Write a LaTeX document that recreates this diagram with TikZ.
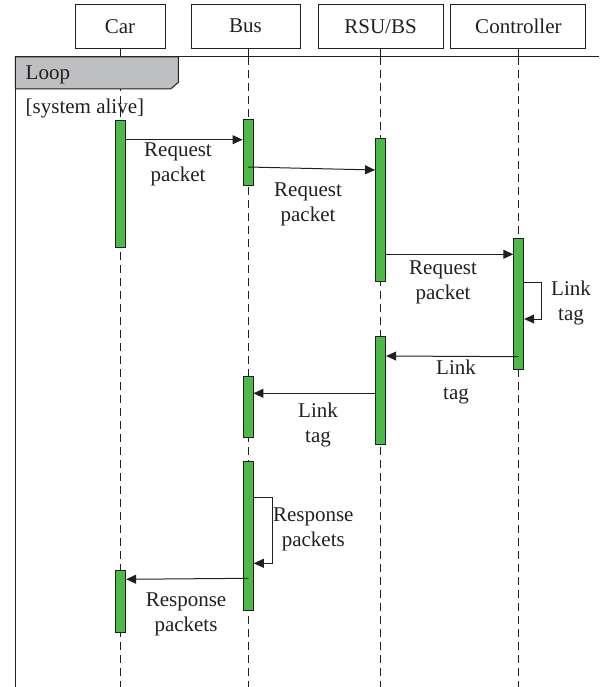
\documentclass[tikz,border=0pt]{standalone}
\usepackage{fontspec}
\setmainfont{Liberation Serif}
\usetikzlibrary{arrows.meta}
\definecolor{actgreen}{RGB}{76,185,72}
\definecolor{loopgray}{RGB}{190,191,193}
\definecolor{inkgray}{RGB}{35,31,32}

\begin{document}
\begin{tikzpicture}[x=1pt,y=-1pt,
  font=\fontsize{21}{25}\selectfont, color=inkgray,
  lifebox/.style={draw,line width=1pt,minimum height=44pt,inner sep=0pt},
  lifeline/.style={line width=0.9pt,dash pattern=on 8pt off 5pt},
  act/.style={draw,fill=actgreen,line width=0.9pt,minimum width=10pt,inner sep=0pt},
  msg/.style={line width=1pt,-{Triangle[length=10pt,width=9pt]}},
  lbl/.style={align=center,inner sep=0pt}]
  \useasboundingbox (0,0) rectangle (599,687);

  % participants
  \node[lifebox,minimum width=90pt]  (car)  at (120,26.2)   {Car};
  \node[lifebox,minimum width=109pt] (bus)  at (245.5,26.2) {Bus};
  \node[lifebox,minimum width=125pt] (rsu)  at (380.5,26.2) {RSU/BS};
  \node[lifebox,minimum width=135pt] (ctrl) at (518.4,26.2) {Controller};

  % lifelines
  \foreach \p/\x in {car/120.7,bus/248,rsu/380.6,ctrl/518.7}{
    \draw[line width=0.9pt] (\x,48) -- (\x,57);
    \draw[lifeline] (\x,57) -- (\x,687);
  }

  % loop frame
  \draw[line width=1pt] (599,57) -- (15.3,57) -- (15.3,687);
  \filldraw[fill=loopgray,line width=1pt] (15.3,57) -- (178.3,57) -- (178.3,82.3) -- (170.7,89) -- (15.3,89) -- cycle;
  \node[anchor=west,inner sep=0pt] (loop) at (25.5,75) {Loop};
  \node[anchor=west,inner sep=0pt] (guard) at (25.5,108) {[system alive]};

  % activations
  \node[act,minimum height=126.7pt] (carA)  at (120.7,183.6) {};
  \node[act,minimum height=66.4pt]  (busA)  at (248,152.5)   {};
  \node[act,minimum height=142.7pt] (rsuA)  at (380.5,209.6) {};
  \node[act,minimum height=131pt]   (ctrlA) at (518.7,303.8) {};
  \node[act,minimum height=107.3pt] (rsuB)  at (380.7,390.3) {};
  \node[act,minimum height=61pt]    (busB)  at (248,406.5)   {};
  \node[act,minimum height=148.3pt] (busC)  at (248.3,535.8) {};
  \node[act,minimum height=62pt]    (carB)  at (120.7,601)   {};

  % messages
  \draw[msg] (carA.east |- 0,139.7) -- (busA.west |- 0,139.7);
  \node[lbl] (m1) at (178,164.5) {Request\\packet};
  \draw[msg] (busA.center |- 0,167) -- (rsuA.west |- 0,170);
  \node[lbl] (m2) at (308,204) {Request\\packet};
  \draw[msg] (rsuA.east |- 0,254.3) -- (ctrlA.west |- 0,254.3);
  \node[lbl] (m3) at (443,282.5) {Request\\packet};
  \draw[msg] (ctrlA.east |- 0,282.7) -- (541.7,282.7) -- (541.7,319) -- (ctrlA.east |- 0,319);
  \node[lbl] (s1) at (571,302.5) {Link\\tag};
  \draw[msg] (ctrlA.center |- 0,356.7) -- (rsuB.east |- 0,356);
  \node[lbl] (m4) at (456,382.3) {Link\\tag};
  \draw[msg] (rsuB.west |- 0,393.3) -- (busB.east |- 0,393.3);
  \node[lbl] (m5) at (318,425) {Link\\tag};
  \draw[msg] (busC.east |- 0,497.3) -- (272,497.3) -- (272,563.3) -- (busC.east |- 0,563.3);
  \node[lbl] (s2) at (313.3,529.2) {Response\\packets};
  \draw[msg] (busC.center |- 0,578.3) -- (carB.east |- 0,579.3);
  \node[lbl] (m6) at (186,614.2) {Response\\packets};
\end{tikzpicture}
\end{document}
